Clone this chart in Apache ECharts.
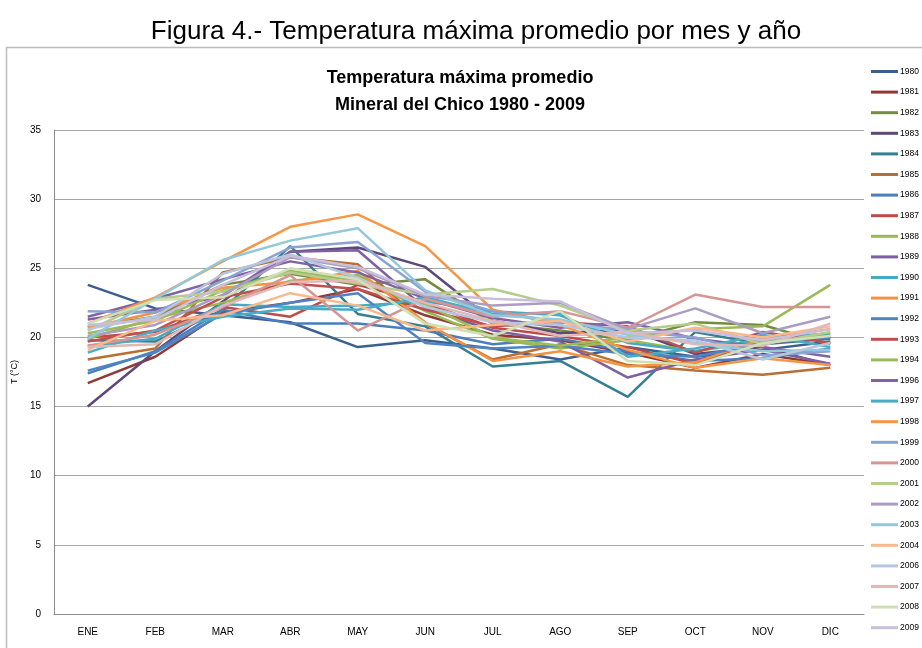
<!DOCTYPE html>
<html>
<head>
<meta charset="utf-8">
<title>Temperatura máxima promedio</title>
<script src="https://cdn.jsdelivr.net/npm/echarts@6/dist/echarts.min.js"></script>
<style>
html, body { margin: 0; padding: 0; background: #fff; }
#grafica { width: 922px; height: 648px; }
</style>
</head>
<body>
<div id="grafica"></div>
<script>
// meses y ejes
var meses = ['ENE', 'FEB', 'MAR', 'ABR', 'MAY', 'JUN', 'JUL', 'AGO', 'SEP', 'OCT', 'NOV', 'DIC'];
var anios = ['1980', '1981', '1982', '1983', '1984', '1985', '1986', '1987', '1988', '1989',
             '1990', '1991', '1992', '1993', '1994', '1996', '1997', '1998', '1999', '2000',
             '2001', '2002', '2003', '2004', '2006', '2007', '2008', '2009'];
var ticksY = [0, 5, 10, 15, 20, 25, 30, 35];

// temperatura maxima promedio (°C) por año
var t1980 = [23.8, 22.1, 21.6, 21.1, 19.3, 19.8, 19.2, 18.4, 19.3, 18.6, 19.1, 19.7];
var t1981 = [16.7, 18.6, 21.8, 22.5, 23.5, 21.6, 20.2, 19.8, 18.9, 17.8, 18.8, 18.0];
var t1982 = [20.8, 21.5, 23.8, 24.6, 23.8, 24.2, 21.0, 20.5, 19.8, 21.1, 20.9, 19.5];
var t1983 = [15.0, 19.0, 22.6, 26.2, 26.5, 25.1, 21.2, 20.3, 20.6, 18.8, 19.3, 18.0];
var t1984 = [19.8, 19.7, 22.0, 26.6, 21.7, 20.8, 17.9, 18.3, 15.7, 20.4, 19.5, 19.9];
var t1985 = [18.4, 19.2, 24.7, 25.8, 25.3, 21.0, 18.4, 19.5, 18.0, 17.6, 17.3, 17.8];
var t1986 = [17.4, 19.0, 22.0, 21.0, 21.0, 20.5, 19.5, 19.9, 19.0, 18.3, 18.5, 19.2];
var t1987 = [20.0, 20.4, 22.2, 21.5, 23.8, 22.5, 20.7, 20.1, 19.3, 18.1, 19.6, 20.0];
var t1988 = [19.9, 21.4, 22.5, 24.1, 24.5, 21.9, 19.9, 19.2, 19.8, 19.0, 19.7, 20.2];
var t1989 = [21.3, 22.0, 23.0, 26.2, 26.3, 22.1, 20.5, 19.7, 17.1, 18.4, 19.1, 18.1];
var t1990 = [19.4, 19.9, 22.4, 22.2, 22.3, 22.6, 21.9, 21.6, 19.6, 19.0, 19.9, 20.3];
var t1991 = [20.7, 21.8, 23.6, 24.0, 24.8, 21.1, 18.3, 19.0, 17.9, 18.2, 19.9, 20.6];
var t1992 = [17.6, 18.9, 21.7, 22.5, 23.2, 19.6, 19.2, 19.4, 18.8, 18.6, 19.6, 20.0];
var t1993 = [19.7, 20.5, 22.9, 23.9, 23.5, 22.0, 20.8, 21.1, 20.8, 18.9, 20.4, 19.6];
var t1994 = [20.3, 21.2, 23.4, 24.8, 24.1, 22.4, 20.0, 19.4, 20.0, 20.6, 20.8, 23.8];
var t1996 = [21.5, 22.8, 24.2, 25.5, 24.7, 22.8, 21.4, 20.7, 21.1, 19.9, 19.3, 18.6];
var t1997 = [18.9, 20.5, 21.5, 22.1, 22.0, 22.9, 21.7, 21.8, 18.6, 19.2, 20.2, 19.3];
var t1998 = [21.0, 22.9, 25.5, 28.0, 28.9, 26.6, 22.0, 20.9, 19.1, 17.8, 18.5, 18.0];
var t1999 = [21.9, 21.8, 24.1, 26.5, 26.9, 23.3, 21.9, 21.1, 20.5, 20.0, 18.7, 19.0];
var t2000 = [19.4, 20.2, 22.2, 24.5, 20.5, 22.8, 21.5, 21.9, 20.7, 23.1, 22.2, 22.2];
var t2001 = [20.5, 22.8, 23.3, 24.7, 23.9, 23.1, 23.5, 22.3, 20.5, 21.0, 19.5, 20.4];
var t2002 = [20.1, 20.9, 23.1, 25.8, 25.0, 23.0, 22.3, 22.5, 20.6, 22.1, 20.3, 21.5];
var t2003 = [19.9, 22.8, 25.6, 27.0, 27.9, 23.4, 21.6, 21.3, 20.2, 19.6, 19.0, 19.1];
var t2004 = [19.1, 21.2, 21.6, 23.2, 22.3, 20.5, 20.9, 21.2, 19.7, 20.7, 20.0, 20.8];
var t2006 = [20.6, 21.5, 24.6, 26.0, 24.3, 22.2, 21.1, 20.9, 20.0, 19.8, 18.4, 19.6];
var t2007 = [19.3, 19.5, 22.3, 24.0, 24.1, 22.5, 21.2, 20.1, 20.4, 19.5, 19.4, 21.0];
var t2008 = [21.0, 22.7, 22.9, 25.0, 24.2, 21.0, 20.1, 21.9, 18.3, 18.0, 19.6, 20.1];
var t2009 = [20.9, 21.3, 23.8, 25.9, 25.1, 23.1, 22.8, 22.6, 20.3, 20.5, 19.8, 20.6];

var datos = [t1980, t1981, t1982, t1983, t1984, t1985, t1986, t1987, t1988, t1989,
             t1990, t1991, t1992, t1993, t1994, t1996, t1997, t1998, t1999, t2000,
             t2001, t2002, t2003, t2004, t2006, t2007, t2008, t2009];

// paleta tipo Excel 2007
var colores = ['#3b5f8f', '#8f3a37', '#738c41', '#5d4878', '#357f93', '#b86f33',
               '#4a7ebb', '#be4b48', '#98b954', '#7d60a0', '#46aac5', '#f69240',
               '#4f84c4', '#c0504d', '#9bbb59', '#8064a2', '#4bacc6', '#f79646',
               '#8ba3d4', '#d69593', '#b5cd8a', '#ab9cc3', '#92c8da', '#f9b98b',
               '#b6c6e0', '#e2b7b6', '#cfdfb6', '#c9bedb'];

var myChart = echarts.init(document.getElementById('grafica'));

var series = [];
for (var i = 0; i < anios.length; i++) {
    series.push({
        name: anios[i],
        type: 'line',
        symbol: 'none',
        smooth: false,
        lineStyle: { width: 2.5, color: colores[i] },
        itemStyle: { color: colores[i] },
        data: datos[i]
    });
}

var option = {
    backgroundColor: '#fff',
    animation: false,
    title: [
        {
            text: 'Figura 4.- Temperatura máxima promedio por mes y año',
            left: 471, top: 14, textAlign: 'center',
            textStyle: { fontFamily: 'Liberation Sans', fontWeight: 'normal', fontSize: 26, color: '#000' }
        },
        {
            text: 'Temperatura máxima promedio\nMineral del Chico 1980 - 2009',
            left: 455, top: 60, textAlign: 'center',
            textStyle: { fontFamily: 'Liberation Sans', fontWeight: 'bold', fontSize: 18, lineHeight: 27, color: '#000' }
        }
    ],
    graphic: [
        { type: 'polyline', shape: { points: [[6.5, 648], [6.5, 47.5], [922, 47.5]] },
          style: { stroke: '#bcbcbc', lineWidth: 1.5, fill: null } }
    ],
    legend: {
        orient: 'vertical',
        left: 866, top: 62,
        icon: 'rect',
        itemWidth: 27, itemHeight: 3,
        itemGap: 11.6,
        textStyle: { fontFamily: 'Liberation Sans', fontSize: 8.5, color: '#000', padding: [0, 0, 0, -3] },
        data: anios
    },
    grid: { left: 54, right: 58, top: 130, bottom: 34 },
    xAxis: {
        type: 'category',
        data: meses,
        boundaryGap: true,
        axisLine: { lineStyle: { color: '#8c8c8c', width: 1 } },
        axisTick: { show: false },
        axisLabel: { fontFamily: 'Liberation Sans', fontSize: 10, color: '#000', margin: 13 }
    },
    yAxis: {
        type: 'value',
        min: 0, max: 35, interval: 5,
        name: 'T (°C)',
        nameLocation: 'middle',
        nameGap: 34,
        nameTextStyle: { fontFamily: 'Liberation Sans', fontSize: 9, color: '#000' },
        axisLine: { show: true, lineStyle: { color: '#8c8c8c', width: 1 } },
        axisTick: { show: false },
        axisLabel: {
            fontFamily: 'Liberation Sans', fontSize: 10, color: '#000', margin: 13,
            formatter: function (v) { return ticksY.indexOf(v) >= 0 ? String(v) : ''; }
        },
        splitLine: { lineStyle: { color: '#a6a6a6', width: 1 } }
    },
    series: series
};

myChart.setOption(option);
</script>
</body>
</html>
